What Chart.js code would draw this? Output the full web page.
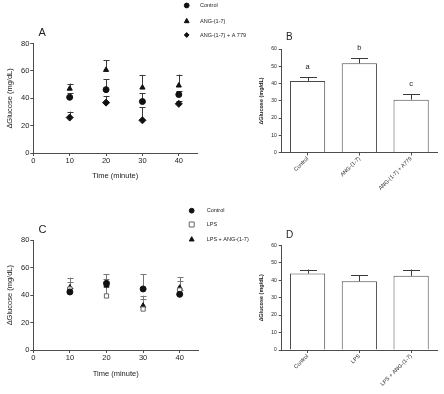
<!DOCTYPE html>
<html lang="en">
<head>
<meta charset="UTF-8" />
<title>Glucose response</title>
<style>
  html, body { margin: 0; padding: 0; background: #fff; }
  .wrap { position: relative; width: 444px; height: 394px; overflow: hidden; }
  .wrap canvas { position: absolute; left: 0; top: 0; }
</style>
</head>
<body>
<div class="wrap">
  <canvas id="chartA" width="444" height="394"></canvas>
  <canvas id="chartB" width="444" height="394"></canvas>
  <canvas id="chartC" width="444" height="394"></canvas>
  <canvas id="chartD" width="444" height="394"></canvas>
</div>

<script src="https://cdn.jsdelivr.net/npm/chart.js"></script>
<script>
  // ---- data ----
  const timePoints = [10, 20, 30, 40];

  // panel A
  const aControl = [40.7, 46.3, 37.6, 42.7];
  const aControlSem = [3.0, 7.4, 6.1, 2.5];
  const aAng = [47.0, 60.7, 47.8, 49.3];
  const aAngSem = [3.7, 7.1, 9.3, 8.0];
  const aAngA779 = [25.9, 36.8, 23.9, 35.9];
  const aAngA779Sem = [4.3, 4.9, 9.5, 2.0];

  // panel B
  const bLabels = ['Control', 'ANG-(1-7)', 'ANG-(1-7) + A779'];
  const bMeans = [41.5, 51.7, 30.6];
  const bSem = [2.2, 3.1, 3.2];
  const bLetters = ['a', 'b', 'c'];

  // panel C
  const cControl = [42.2, 48.5, 44.4, 40.5];
  const cControlSem = [3.0, 6.5, 10.6, 3.0];
  const cLps = [44.4, 39.3, 29.8, 43.6];
  const cLpsSem = [5.1, 8.0, 7.2, 6.8];
  const cLpsAng = [45.5, 46.8, 32.2, 45.3];
  const cLpsAngSem = [7.1, 5.2, 7.3, 7.6];

  // panel D
  const dLabels = ['Control', 'LPS', 'LPS + ANG-(1-7)'];
  const dMeans = [43.8, 39.4, 42.5];
  const dSem = [2.3, 3.4, 3.6];

  const FONT = "'Liberation Sans', Arial, sans-serif";
  const INK = '#222';
  const AXIS = '#4d4d4d';

  // ---- plugins ----
  function drawErrors(chart, opts) {
    const ctx = chart.ctx;
    const ys = chart.scales.y;
    ctx.save();
    ctx.strokeStyle = opts.color;
    ctx.lineWidth = 1;
    chart.data.datasets.forEach((ds, di) => {
      if (!ds.sem) return;
      const meta = chart.getDatasetMeta(di);
      meta.data.forEach((el, i) => {
        const v = ds.data[i];
        const mean = typeof v === 'object' ? v.y : v;
        const top = ys.getPixelForValue(mean + ds.sem[i]);
        const x = Math.round(el.x) + 0.5;
        ctx.beginPath();
        ctx.moveTo(x, el.y);
        ctx.lineTo(x, top);
        ctx.moveTo(x - opts.cap / 2, Math.round(top) + 0.5);
        ctx.lineTo(x + opts.cap / 2, Math.round(top) + 0.5);
        ctx.stroke();
        if (opts.letters) {
          ctx.fillStyle = INK;
          ctx.font = '7.5px ' + FONT;
          ctx.textAlign = 'center';
          ctx.textBaseline = 'middle';
          ctx.fillText(opts.letters[i], el.x, top - 10);
        }
      });
    });
    ctx.restore();
  }

  const errorBars = {
    id: 'errorBars',
    beforeDatasetsDraw(chart, args, opts) { if (opts.under) drawErrors(chart, opts); },
    afterDatasetsDraw(chart, args, opts) { if (!opts.under) drawErrors(chart, opts); }
  };

  function drawMarker(ctx, style, x, y, r, fill, stroke) {
    ctx.beginPath();
    if (style === 'circle') {
      ctx.arc(x, y, r, 0, Math.PI * 2);
    } else if (style === 'triangle') {
      ctx.moveTo(x, y - r * 1.1);
      ctx.lineTo(x + r, y + r * 0.7);
      ctx.lineTo(x - r, y + r * 0.7);
      ctx.closePath();
    } else if (style === 'rectRot') {
      ctx.moveTo(x, y - r);
      ctx.lineTo(x + r, y);
      ctx.lineTo(x, y + r);
      ctx.lineTo(x - r, y);
      ctx.closePath();
    } else {
      ctx.rect(x - r, y - r, r * 2, r * 2);
    }
    ctx.fillStyle = fill;
    ctx.fill();
    ctx.strokeStyle = stroke;
    ctx.lineWidth = 1;
    ctx.stroke();
  }

  const sideLegend = {
    id: 'sideLegend',
    afterDraw(chart, args, opts) {
      if (!opts.rows) return;
      const ctx = chart.ctx;
      ctx.save();
      ctx.font = '5.5px ' + FONT;
      ctx.textBaseline = 'middle';
      ctx.textAlign = 'left';
      chart.data.datasets.forEach((ds, i) => {
        const y = opts.rows[i];
        drawMarker(ctx, ds.pointStyle, opts.markerX, y, ds.pointStyle === 'rect' ? 2.5 : 2.4,
          ds.backgroundColor, ds.borderColor);
        ctx.fillStyle = INK;
        ctx.fillText(ds.label, opts.textX, y);
      });
      ctx.restore();
    }
  };

  const panelTag = {
    id: 'panelTag',
    afterDraw(chart, args, opts) {
      const ctx = chart.ctx;
      ctx.save();
      ctx.font = opts.size + 'px ' + FONT;
      ctx.fillStyle = INK;
      ctx.textAlign = 'left';
      ctx.textBaseline = 'middle';
      ctx.fillText(opts.text, opts.x, opts.y);
      ctx.restore();
    }
  };

  function fixWidth(w) {
    return s => { s.width = w; s.paddingTop = 0; s.paddingBottom = 0; };
  }
  function fixHeight(h) {
    return s => { s.height = h; s.paddingLeft = 0; s.paddingRight = 0; };
  }

  function series(label, means, sem, style, fill, stroke, radius) {
    return {
      label: label,
      data: timePoints.map((t, i) => ({ x: t, y: means[i] })),
      sem: sem,
      pointStyle: style,
      pointRadius: radius,
      backgroundColor: fill,
      borderColor: stroke,
      pointBorderWidth: 1,
      showLine: false
    };
  }

  function scatterPanel(id, datasets, cfg) {
    return new Chart(document.getElementById(id), {
      type: 'scatter',
      data: { datasets: datasets },
      options: {
        responsive: false,
        animation: false,
        events: [],
        layout: { padding: cfg.padding },
        plugins: {
          legend: { display: false },
          tooltip: { enabled: false },
          errorBars: { under: true, cap: 6, color: cfg.errColor },
          sideLegend: cfg.legend,
          panelTag: cfg.tag
        },
        scales: {
          x: {
            type: 'linear', min: 0, max: 45,
            afterBuildTicks: s => { s.ticks = s.ticks.filter(t => t.value % 10 === 0); },
            afterFit: fixHeight(cfg.xHeight),
            ticks: { stepSize: 10, padding: 0, color: INK, font: { family: FONT, size: 7.5 } },
            grid: { drawOnChartArea: false, tickLength: 3, color: AXIS },
            border: { color: AXIS },
            title: { display: true, text: 'Time (minute)', color: INK, padding: 0,
                     font: { family: FONT, size: 7.5 } }
          },
          y: {
            min: 0, max: 80,
            afterFit: fixWidth(33.3),
            ticks: { stepSize: 20, padding: 1, color: INK, font: { family: FONT, size: 7.5 } },
            grid: { drawOnChartArea: false, tickLength: 3, color: AXIS },
            border: { color: AXIS },
            title: { display: true, text: '\u2206Glucose (mg/dL)', color: INK,
                     padding: { top: 5.5, bottom: 0 }, font: { family: FONT, size: 7.5 } }
          }
        }
      },
      plugins: [errorBars, sideLegend, panelTag]
    });
  }

  function barPanel(id, labels, means, sem, letters, cfg) {
    return new Chart(document.getElementById(id), {
      type: 'bar',
      data: {
        labels: labels,
        datasets: [{
          data: means,
          sem: sem,
          backgroundColor: '#fff',
          borderColor: '#4a4a4a',
          borderWidth: 1,
          barPercentage: 0.68,
          categoryPercentage: 1
        }]
      },
      options: {
        responsive: false,
        animation: false,
        events: [],
        layout: { padding: cfg.padding },
        plugins: {
          legend: { display: false },
          tooltip: { enabled: false },
          errorBars: { under: false, cap: 17, color: '#3a3a3a', letters: letters },
          sideLegend: {},
          panelTag: cfg.tag
        },
        scales: {
          x: {
            offset: true,
            afterFit: fixHeight(44),
            ticks: { minRotation: 45, maxRotation: 45, autoSkip: false, padding: 0,
                     color: INK, font: { family: FONT, size: 5.5 } },
            grid: { drawOnChartArea: false, offset: false, tickLength: 3, color: AXIS },
            border: { color: AXIS }
          },
          y: {
            min: 0, max: 60,
            afterFit: fixWidth(31.7),
            ticks: { stepSize: 10, padding: 2, color: INK, font: { family: FONT, size: 5 } },
            grid: { drawOnChartArea: false, tickLength: 3, color: AXIS },
            border: { color: AXIS },
            title: { display: true, text: '\u2206Glucose (mg/dL)', color: INK,
                     padding: { top: 8.4, bottom: 0 },
                     font: { family: FONT, size: 5.5, weight: 'bold' } }
          }
        }
      },
      plugins: [errorBars, sideLegend, panelTag]
    });
  }

  // ---- panels ----
  scatterPanel('chartA', [
    series('Control', aControl, aControlSem, 'circle', '#111', '#111', 3),
    series('ANG-(1-7)', aAng, aAngSem, 'triangle', '#111', '#111', 3),
    series('ANG-(1-7) + A 779', aAngA779, aAngA779Sem, 'rectRot', '#111', '#111', 3.5)
  ], {
    padding: { left: 0, top: 43.5, right: 247, bottom: 213.5 },
    xHeight: 27.5,
    errColor: '#3a3a3a',
    legend: { markerX: 186.7, textX: 200, rows: [5.5, 21, 35] },
    tag: { text: 'A', x: 38.5, y: 33, size: 11 }
  });

  barPanel('chartB', bLabels, bMeans, bSem, bLetters, {
    padding: { left: 250, top: 49, right: 7, bottom: 197.5 },
    tag: { text: 'B', x: 286, y: 37, size: 10 }
  });

  scatterPanel('chartC', [
    series('Control', cControl, cControlSem, 'circle', '#111', '#111', 3),
    series('LPS', cLps, cLpsSem, 'rect', '#fff', '#666', 3),
    series('LPS + ANG-(1-7)', cLpsAng, cLpsAngSem, 'triangle', '#111', '#111', 3)
  ], {
    padding: { left: 0, top: 240, right: 246, bottom: 15.5 },
    xHeight: 28.5,
    errColor: '#777',
    legend: { markerX: 191.7, textX: 206.7, rows: [210.7, 224.5, 239.3] },
    tag: { text: 'C', x: 38.5, y: 230, size: 11 }
  });

  barPanel('chartD', dLabels, dMeans, dSem, null, {
    padding: { left: 250, top: 245.3, right: 7, bottom: 0 },
    tag: { text: 'D', x: 286, y: 235, size: 10 }
  });
</script>
</body>
</html>
